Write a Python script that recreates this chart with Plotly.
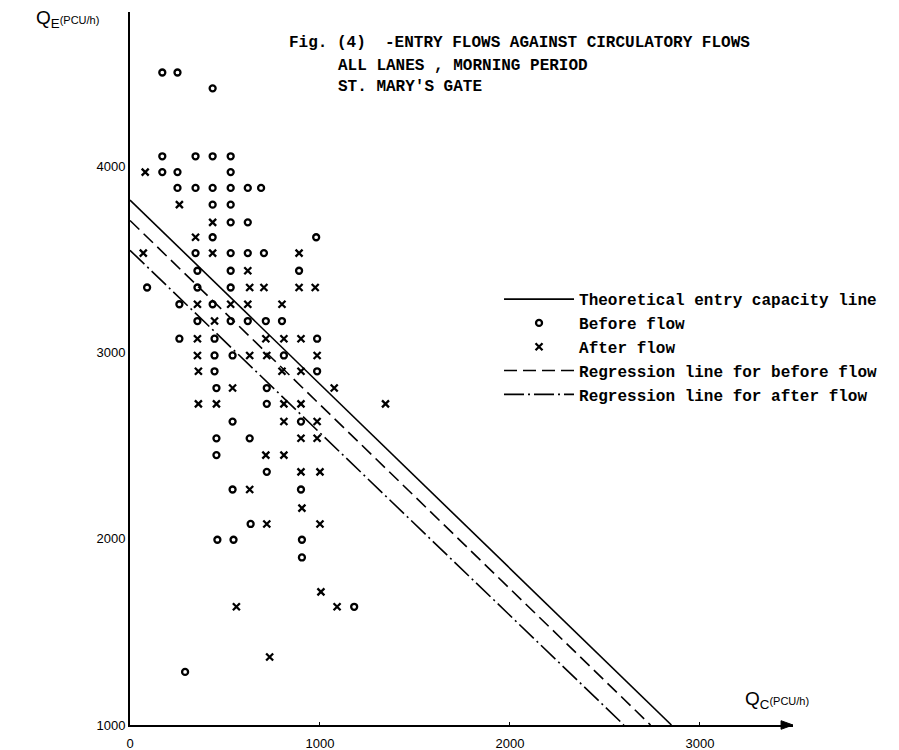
import plotly.graph_objects as go

# ---- data ----
before_x = [170, 250, 435, 170, 345, 435, 530, 170, 250, 530,
            250, 345, 435, 530, 620, 690, 435, 530, 530, 620,
            435, 980, 345, 530, 620, 705, 355, 530, 890, 90,
            355, 530, 260, 435, 355, 530, 620, 715, 800, 260,
            445, 985, 445, 540, 810, 445, 985, 455, 720, 720,
            540, 900, 455, 630, 455, 720, 540, 900, 635, 460,
            545, 905, 905, 1180, 290]
before_y = [4505, 4505, 4420, 4055, 4055, 4055, 4055, 3970, 3970, 3970,
            3885, 3885, 3885, 3885, 3885, 3885, 3795, 3795, 3700, 3700,
            3620, 3620, 3535, 3535, 3535, 3535, 3440, 3440, 3440, 3350,
            3350, 3350, 3260, 3260, 3170, 3170, 3170, 3170, 3170, 3075,
            3075, 3075, 2985, 2985, 2985, 2900, 2900, 2810, 2810, 2725,
            2630, 2630, 2540, 2540, 2450, 2360, 2265, 2265, 2080, 1995,
            1995, 1995, 1900, 1635, 1285]

after_x = [80, 260, 435, 345, 70, 435, 890, 620, 630, 705,
           890, 975, 355, 530, 620, 800, 445, 355, 715, 810,
           900, 355, 630, 720, 985, 360, 800, 900, 540, 1075,
           360, 455, 810, 900, 1345, 810, 985, 900, 985, 715,
           810, 900, 1000, 630, 905, 720, 1000, 1005, 560, 1090,
           735]
after_y = [3970, 3795, 3700, 3620, 3535, 3535, 3535, 3440, 3350, 3350,
           3350, 3350, 3260, 3260, 3260, 3260, 3170, 3075, 3075, 3075,
           3075, 2985, 2985, 2985, 2985, 2900, 2900, 2900, 2810, 2810,
           2725, 2725, 2725, 2725, 2725, 2630, 2630, 2540, 2540, 2450,
           2450, 2360, 2360, 2265, 2165, 2080, 2080, 1715, 1635, 1635,
           1365]

theory_x = [0, 2850]
theory_y = [3820, 1000]
reg_before_x = [0, 2740]
reg_before_y = [3710, 1000]
reg_after_x = [0, 2600]
reg_after_y = [3550, 1000]

x_ticks = [0, 1000, 2000, 3000]
y_ticks = [1000, 2000, 3000, 4000]

legend_names = ["Theoretical entry capacity line", "Before flow", "After flow",
                "Regression line for before flow", "Regression line for after flow"]

title_lines = ["Fig. (4)  -ENTRY FLOWS AGAINST CIRCULATORY FLOWS",
               "ALL LANES , MORNING PERIOD",
               "ST. MARY'S GATE"]

MONO = "Liberation Mono"
SANS = "Liberation Sans"

fig = go.Figure()
fig.add_trace(go.Scatter(x=theory_x, y=theory_y, mode="lines", name=legend_names[0],
                         line=dict(color="black", width=1.6), legendgroup="a", legendrank=1))
fig.add_trace(go.Scatter(x=before_x, y=before_y, mode="markers", name=legend_names[1],
                         marker=dict(symbol="circle-open", size=6, color="black",
                                     line=dict(width=2.3, color="black")),
                         legendgroup="b", legendrank=2))
fig.add_trace(go.Scatter(x=after_x, y=after_y, mode="markers", name=legend_names[2],
                         marker=dict(symbol="x-thin", size=7, color="black",
                                     line=dict(width=2.3, color="black")),
                         legendgroup="c", legendrank=3))
fig.add_trace(go.Scatter(x=reg_before_x, y=reg_before_y, mode="lines", name=legend_names[3],
                         line=dict(color="black", width=1.6, dash="13px,6px"),
                         legendgroup="d", legendrank=4))
fig.add_trace(go.Scatter(x=reg_after_x, y=reg_after_y, mode="lines", name=legend_names[4],
                         line=dict(color="black", width=1.6, dash="20px,4px,2px,4px"),
                         legendgroup="e", legendrank=5))

ys = [0.9565, 0.924, 0.8948]
xs = [0.237, 0.3107, 0.3107]
for t, xx, yy in zip(title_lines, xs, ys):
    fig.add_annotation(text=t, x=xx, y=yy, xref="paper", yref="paper",
                       xanchor="left", yanchor="middle", showarrow=False,
                       font=dict(family=MONO, size=16, color="black", weight="bold"))

fig.add_annotation(text="Q<sub>E</sub><span style='font-size:11px'>(PCU/h)</span>",
                   x=-0.145, y=0.99, xref="paper", yref="paper",
                   xanchor="left", yanchor="middle", showarrow=False,
                   font=dict(family=SANS, size=19, color="black"))
fig.add_annotation(text="Q<sub>C</sub><span style='font-size:11px'>(PCU/h)</span>",
                   x=0.925, y=0.035, xref="paper", yref="paper",
                   xanchor="left", yanchor="middle", showarrow=False,
                   font=dict(family=SANS, size=19, color="black"))

# arrow head at the end of the x axis
fig.add_shape(type="path", xref="paper", yref="paper",
              path="M 1.0,0 L 0.982,0.006 L 0.982,-0.006 Z",
              fillcolor="black", line=dict(color="black", width=1))

fig.update_xaxes(range=[0, 3490], tickvals=x_ticks, ticktext=[str(v) for v in x_ticks],
                 showgrid=False, zeroline=False, showline=True, linecolor="black",
                 linewidth=2, ticks="inside", ticklen=3, tickcolor="black",
                 ticklabelstandoff=5, automargin=False,
                 tickfont=dict(family=SANS, size=13, color="black"))
fig.update_yaxes(range=[1000, 4830], tickvals=y_ticks, ticktext=[str(v) for v in y_ticks],
                 showgrid=False, zeroline=False, showline=True, linecolor="black",
                 linewidth=2, ticks="", automargin=False,
                 tickfont=dict(family=SANS, size=13, color="black"))

# page body adds an 8px offset; compensate so the plot area lands at x 130-793, y 12-725
fig.update_layout(
    width=891, height=742,
    margin=dict(l=122, r=106, t=4, b=25),
    paper_bgcolor="white", plot_bgcolor="white",
    showlegend=True,
    legend=dict(x=0.5566, y=0.621, xanchor="left", yanchor="top",
                bgcolor="rgba(0,0,0,0)", tracegroupgap=0, itemwidth=70,
                font=dict(family=MONO, size=16, color="black", weight="bold")),
)

fig.write_html("out.html")
